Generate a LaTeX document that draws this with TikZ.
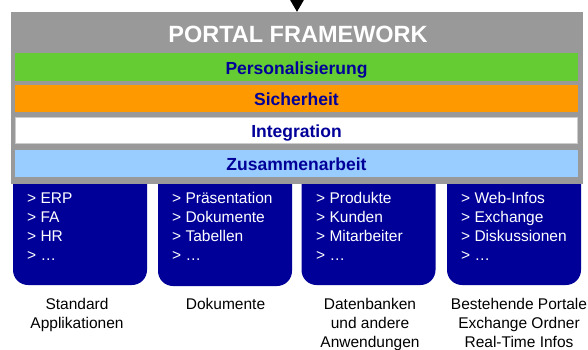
\documentclass[tikz,border=0pt]{standalone}
\usepackage{fontspec}
\setmainfont{Liberation Sans}
\definecolor{framegray}{HTML}{999999}
\definecolor{persgreen}{HTML}{66CC33}
\definecolor{secorange}{HTML}{FF9900}
\definecolor{collabblue}{HTML}{99CCFF}
\definecolor{navy}{HTML}{000099}
\begin{document}
\begin{tikzpicture}[x=1pt, y=-1pt,
    bar/.style={minimum width=563pt, inner sep=0pt, text height=16pt, text depth=2pt,
        font=\fontsize{17.5}{20}\selectfont\bfseries, text=navy},
    source/.style={fill=navy, rounded corners=15pt, minimum width=134pt, minimum height=136pt, inner sep=0pt},
    item/.style={anchor=base west, align=left, text=white, inner sep=0pt,
        font=\fontsize{15.5}{19}\selectfont},
    caption/.style={anchor=base, align=center, inner sep=0pt,
        font=\fontsize{15.5}{19}\selectfont}]
    \useasboundingbox (0,0) rectangle (588,349);
    % data sources, partly hidden by the frame
    \node[source] (appbox) at (80, 217) {};
    \node[source] (docbox) at (225, 218) {};
    \node[source] (dbbox) at (368.5, 217) {};
    \node[source] (portalbox) at (514, 217) {};
    % (base = last line)
    \node[item] (applist) at (27, 260) {> ERP\\> FA\\> HR\\> …};
    \node[item] (doclist) at (172, 260) {> Präsentation\\> Dokumente\\> Tabellen\\> …};
    \node[item] (dblist) at (316, 260) {> Produkte\\> Kunden\\> Mitarbeiter\\> …};
    \node[item] (portallist) at (461, 260) {> Web-Infos\\> Exchange\\> Diskussionen\\> …};
    % portal framework
    \node[fill=framegray, minimum width=572pt, minimum height=172pt, inner sep=0pt] (frame) at (297, 98) {};
    \fill (frame.north) -- ++(-7,-12) -- ++(14,0) -- cycle;
    \node[anchor=base, text=white, inner sep=0pt, font=\fontsize{23.5}{26}\selectfont\bfseries] (title) at (298, 42) {PORTAL FRAMEWORK};
    \node[bar, fill=persgreen, minimum height=28pt] (pers) at (296.5, 67) {Personalisierung};
    \node[bar, fill=secorange, minimum height=27pt] (sec) at (296.5, 98.5) {Sicherheit};
    \node[bar, fill=white, draw=black!20, line width=1pt, minimum height=26pt, minimum width=562pt] (integ) at (296.5, 130.5) {Integration};
    \node[bar, fill=collabblue, minimum height=27pt] (collab) at (296.5, 163.5) {Zusammenarbeit};
    % captions
    \node[caption] (appcap) at (77, 328) {Standard\\Applikationen};
    \node[caption] (doccap) at (225.5, 309) {Dokumente};
    \node[caption] (dbcap) at (370, 347) {Datenbanken\\und andere\\Anwendungen};
    \node[caption] (portalcap) at (519, 347) {Bestehende Portale\\Exchange Ordner\\Real-Time Infos};
\end{tikzpicture}
\end{document}
